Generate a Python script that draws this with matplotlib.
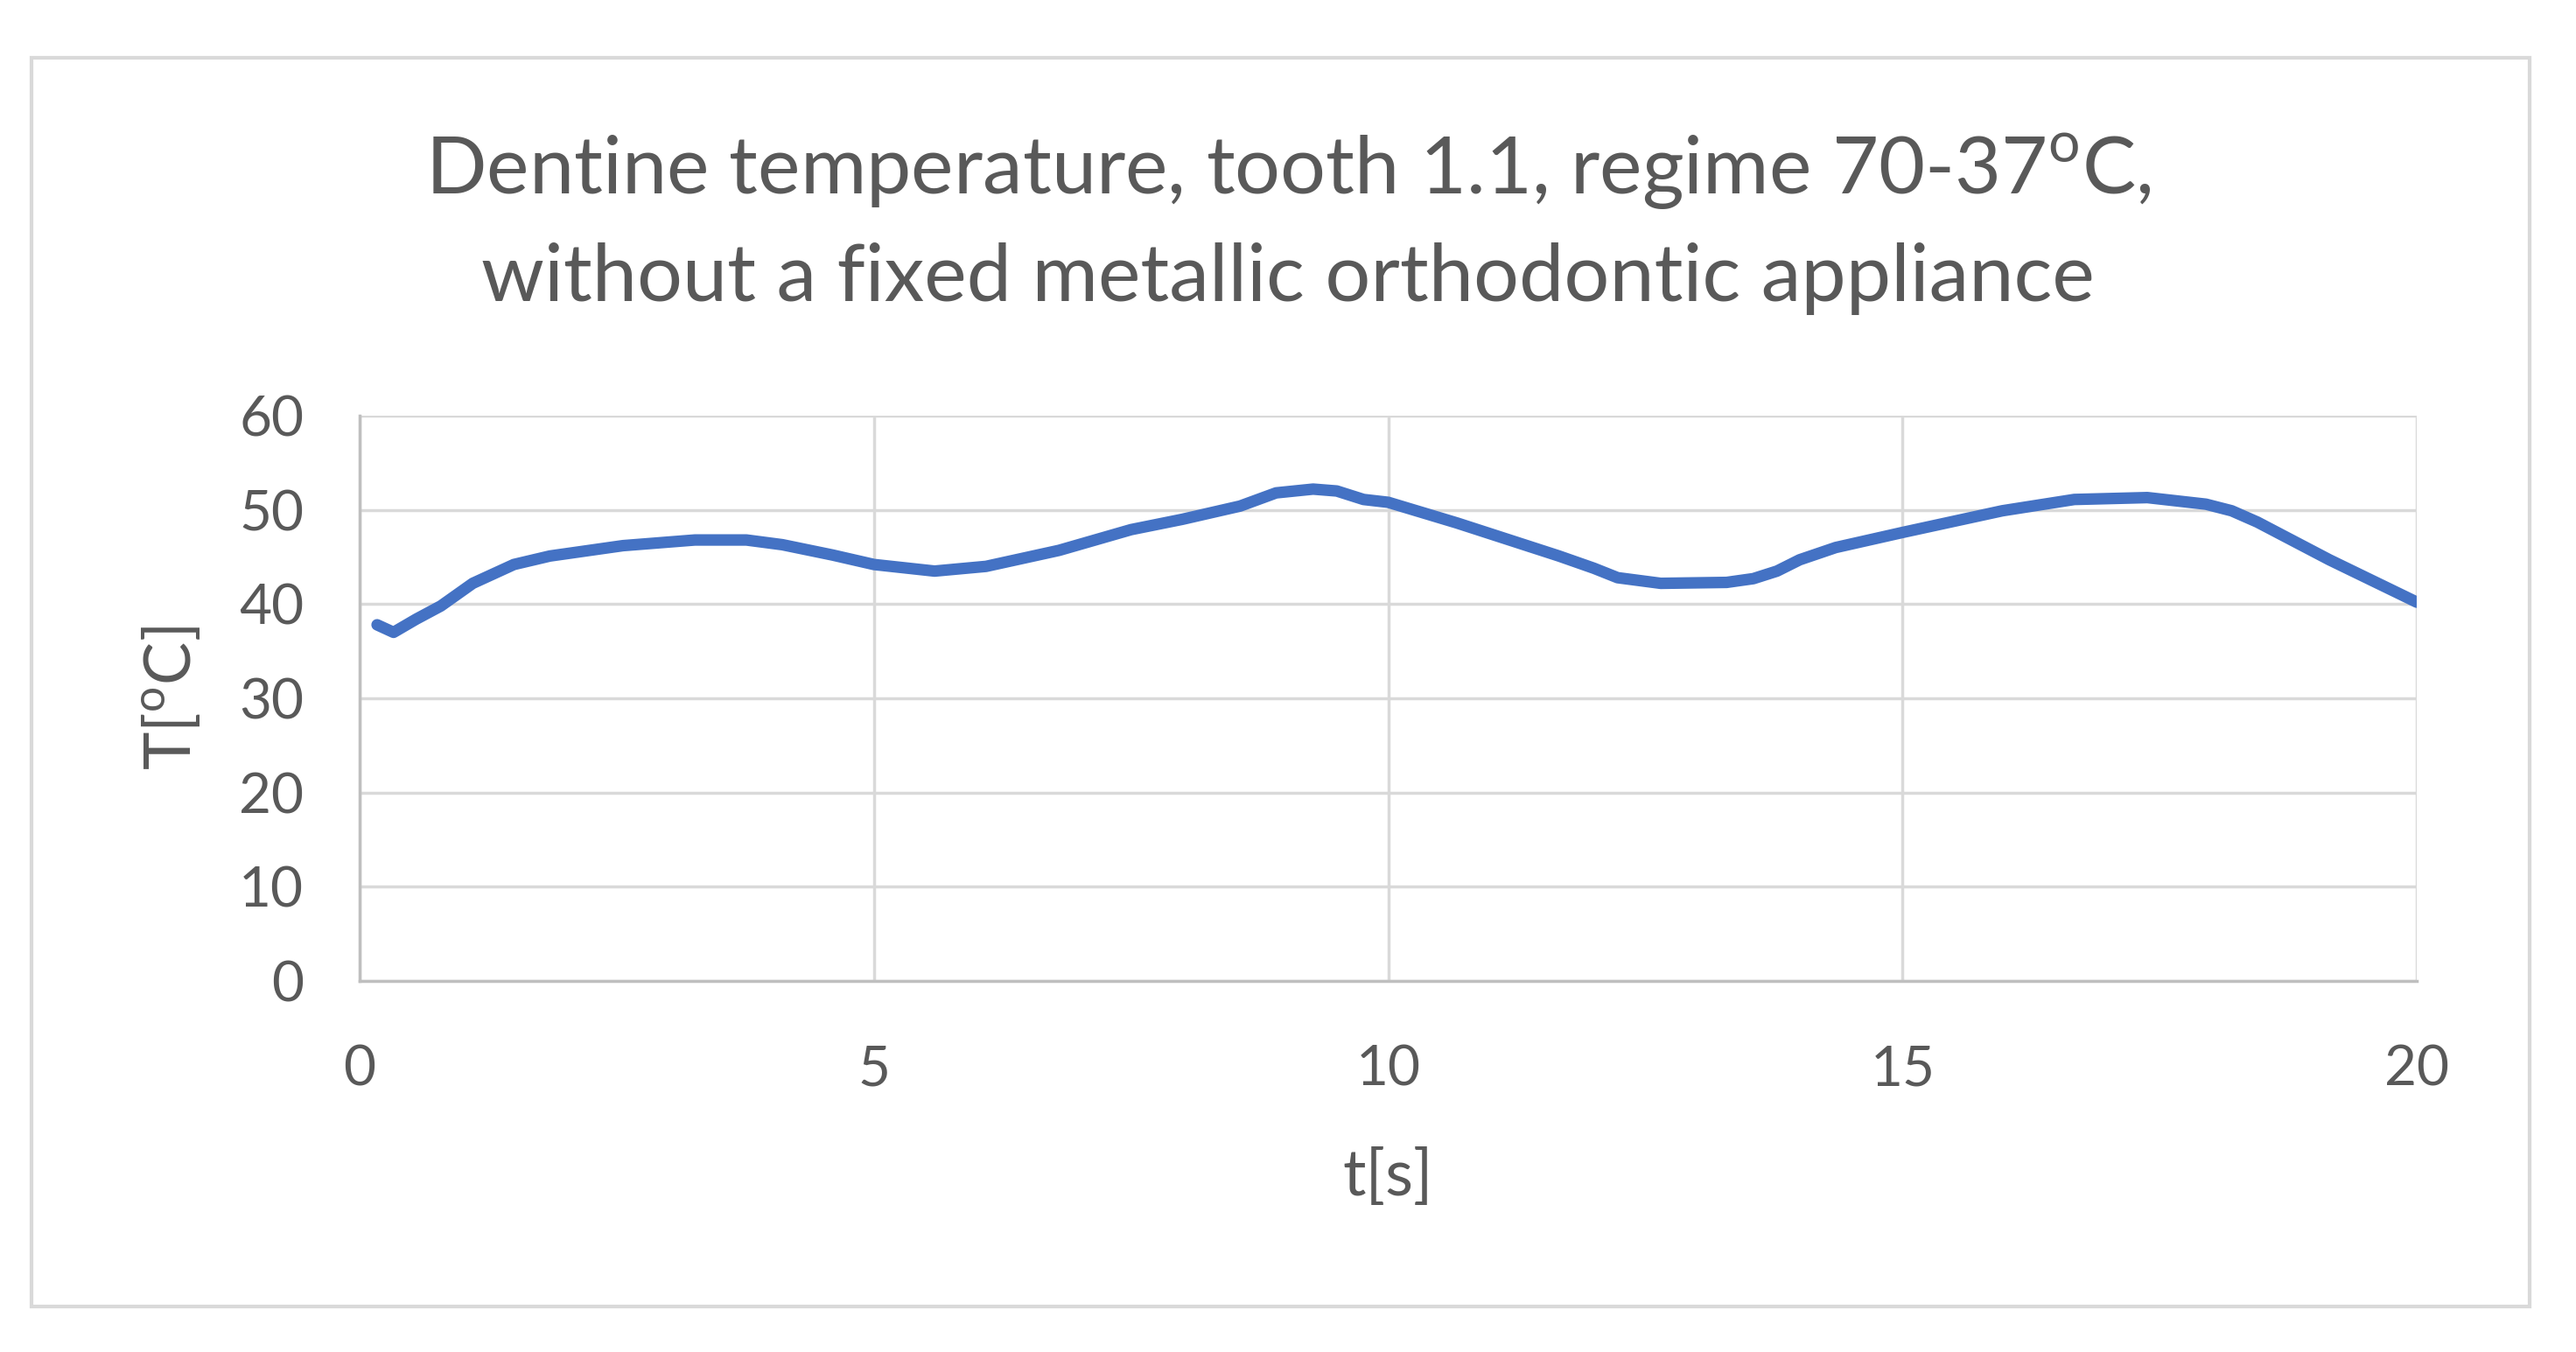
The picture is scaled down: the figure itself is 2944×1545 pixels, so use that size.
import matplotlib
matplotlib.use("Agg")
import matplotlib.pyplot as plt
from matplotlib.patches import Rectangle

plt.rcParams['font.family'] = ['Lato', 'DejaVu Sans']
plt.rcParams['mathtext.fontset'] = 'custom'
plt.rcParams['mathtext.rm'] = 'Lato'

# time [s] and dentine temperature [oC]
t = [0.17, 0.33, 0.55, 0.79, 1.1, 1.5, 1.85, 2.56, 3.26, 3.76, 4.11, 4.6, 5.0, 5.59,
     6.09, 6.8, 7.5, 8.0, 8.56, 8.91, 9.27, 9.5, 9.76, 10.0, 10.67, 11.66, 12.0,
     12.23, 12.65, 13.29, 13.55, 13.78, 14.0, 14.35, 15.0, 15.97, 16.67, 17.38,
     17.95, 18.2, 18.45, 19.15, 20.0]
T = [37.8, 37.0, 38.4, 39.8, 42.2, 44.2, 45.1, 46.2, 46.8, 46.8, 46.3, 45.2, 44.2,
     43.5, 44.0, 45.7, 47.9, 49.0, 50.4, 51.8, 52.2, 52.0, 51.1, 50.8, 48.6, 45.1,
     43.8, 42.8, 42.2, 42.3, 42.7, 43.5, 44.7, 46.0, 47.6, 49.9, 51.1, 51.3, 50.6,
     49.9, 48.7, 44.7, 40.2]

xticks = [0, 5, 10, 15, 20]
yticks = [0, 10, 20, 30, 40, 50, 60]

title1 = "Dentine temperature, tooth 1.1, regime 70-37$^{\\mathrm{o}}$C,"
title2 = "without a fixed metallic orthodontic appliance"
txt = '#595959'
grid = '#D9D9D9'

fig = plt.figure(figsize=(29.44, 15.45), dpi=100)
# outer chart border
fig.patches.append(Rectangle((36/2944, 1-1493/1545), (2891-36)/2944, (1493-66)/1545,
                             transform=fig.transFigure, fill=False, edgecolor=grid, linewidth=3))

ax = fig.add_axes([0.1396, 0.2744, 0.9382-0.1396, 0.6926-0.2744])
ax.plot(t, T, color='#4472C4', linewidth=9.5, solid_capstyle='round', solid_joinstyle='round', zorder=3)

ax.set_xlim(0, 20)
ax.set_ylim(0, 60)
ax.set_xticks(xticks)
ax.set_yticks(yticks)
ax.grid(True, color=grid, linewidth=2.5)
ax.set_axisbelow(True)
for s in ['top', 'right']:
    ax.spines[s].set_visible(False)
for s in ['left', 'bottom']:
    ax.spines[s].set_color('#BFBFBF')
    ax.spines[s].set_linewidth(2.5)
ax.tick_params(length=0, labelsize=46, labelcolor=txt)
ax.tick_params(axis='y', pad=46)
ax.tick_params(axis='x', pad=52)

ax.set_xlabel("t[s]", fontsize=53, color=txt, labelpad=44)
ax.set_ylabel("T[$^{\\mathrm{o}}$C]", fontsize=53, color=txt, labelpad=30)

fig.text(0.5, 0.8566, title1, ha='center', va='baseline', fontsize=66, color=txt)
fig.text(0.5, 0.7776, title2, ha='center', va='baseline', fontsize=66, color=txt)

fig.savefig("out.png", dpi=100, facecolor='white')
